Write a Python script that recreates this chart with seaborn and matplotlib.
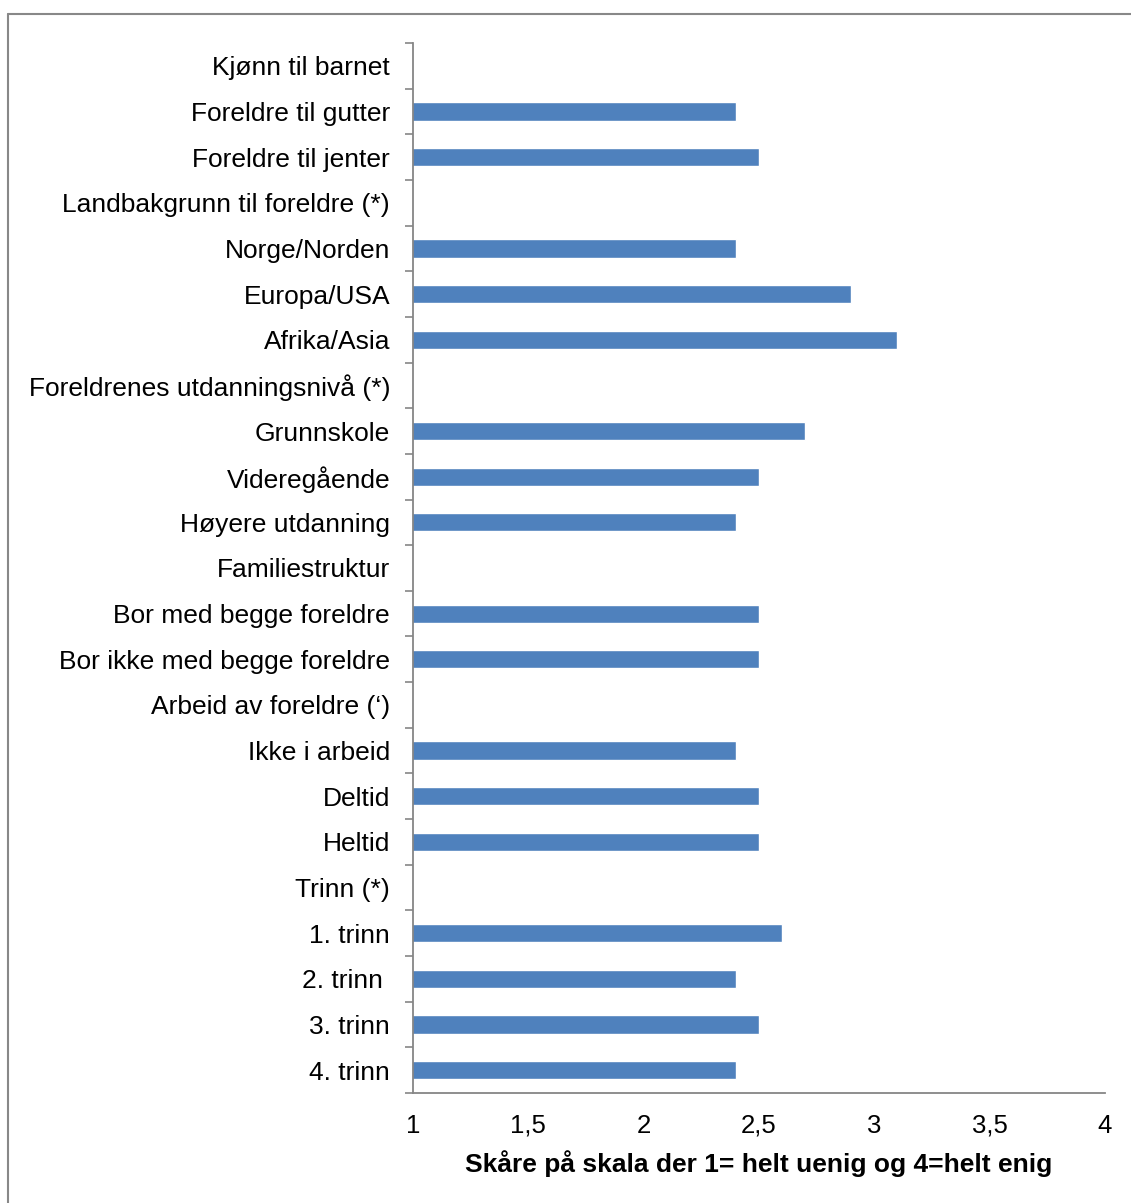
import matplotlib
matplotlib.use("Agg")
import matplotlib.pyplot as plt
import numpy as np
import pandas as pd
import seaborn as sns
from matplotlib.lines import Line2D

# data ----------------------------------------------------------------
categories = [
    "Kjønn til barnet",
    "Foreldre til gutter",
    "Foreldre til jenter",
    "Landbakgrunn til foreldre (*)",
    "Norge/Norden",
    "Europa/USA",
    "Afrika/Asia",
    "Foreldrenes utdanningsnivå (*)",
    "Grunnskole",
    "Videregående",
    "Høyere utdanning",
    "Familiestruktur",
    "Bor med begge foreldre",
    "Bor ikke med begge foreldre",
    "Arbeid av foreldre (‘)",
    "Ikke i arbeid",
    "Deltid",
    "Heltid",
    "Trinn (*)",
    "1. trinn",
    "2. trinn ",
    "3. trinn",
    "4. trinn",
]
scores = [
    np.nan, 2.4, 2.5,
    np.nan, 2.4, 2.9, 3.1,
    np.nan, 2.7, 2.5, 2.4,
    np.nan, 2.5, 2.5,
    np.nan, 2.4, 2.5, 2.5,
    np.nan, 2.6, 2.4, 2.5, 2.4,
]
x_ticks = [1, 1.5, 2, 2.5, 3, 3.5, 4]
x_ticklabels = ["1", "1,5", "2", "2,5", "3", "3,5", "4"]

df = pd.DataFrame({"kategori": categories, "skaare": scores}).dropna()

# plot ----------------------------------------------------------------
sns.set_style("white")
plt.rcParams["font.family"] = ["Liberation Sans", "DejaVu Sans"]

fig = plt.figure(figsize=(11.31, 12.03), dpi=100)
ax = fig.add_axes([0.3652, 0.0914, 0.6118, 0.8729])

sns.barplot(
    data=df, y="kategori", x="skaare", order=categories,
    orient="h", color="#4F81BD", saturation=1, width=0.4, ax=ax,
)

ax.set_xlim(1, 4)
ax.set_ylim(len(categories) - 0.5, -0.5)
ax.set_xticks(x_ticks)
ax.set_xticklabels(x_ticklabels, fontsize=18.5, color="black")
ax.set_yticks(range(len(categories)))
ax.set_yticklabels(categories, fontsize=19, color="black")
ax.tick_params(axis="y", length=0, pad=16.5)
ax.tick_params(axis="x", length=0, pad=15)

# minor ticks between categories, like the original
ax.set_yticks(np.arange(-0.5, len(categories), 1), minor=True)
ax.set_xticks(x_ticks, minor=True)
ax.tick_params(which="minor", left=True, bottom=True, length=6, width=1.2,
               color="#868686", direction="out")

ax.set_xlabel("Skåre på skala der 1= helt uenig og 4=helt enig",
              fontsize=19, fontweight="bold", color="black", labelpad=9)
ax.set_ylabel("")

for side in ["top", "right"]:
    ax.spines[side].set_visible(False)
for side in ["left", "bottom"]:
    ax.spines[side].set_color("#868686")
    ax.spines[side].set_linewidth(1.3)

# chart border
bc = "#888888"
fig.add_artist(Line2D([0.0071, 1.0], [0.9884, 0.9884], color=bc, lw=1.5,
                      transform=fig.transFigure))
fig.add_artist(Line2D([0.0071, 0.0071], [0.0, 0.9884], color=bc, lw=1.5,
                      transform=fig.transFigure))

fig.savefig("out.png", dpi=100)
